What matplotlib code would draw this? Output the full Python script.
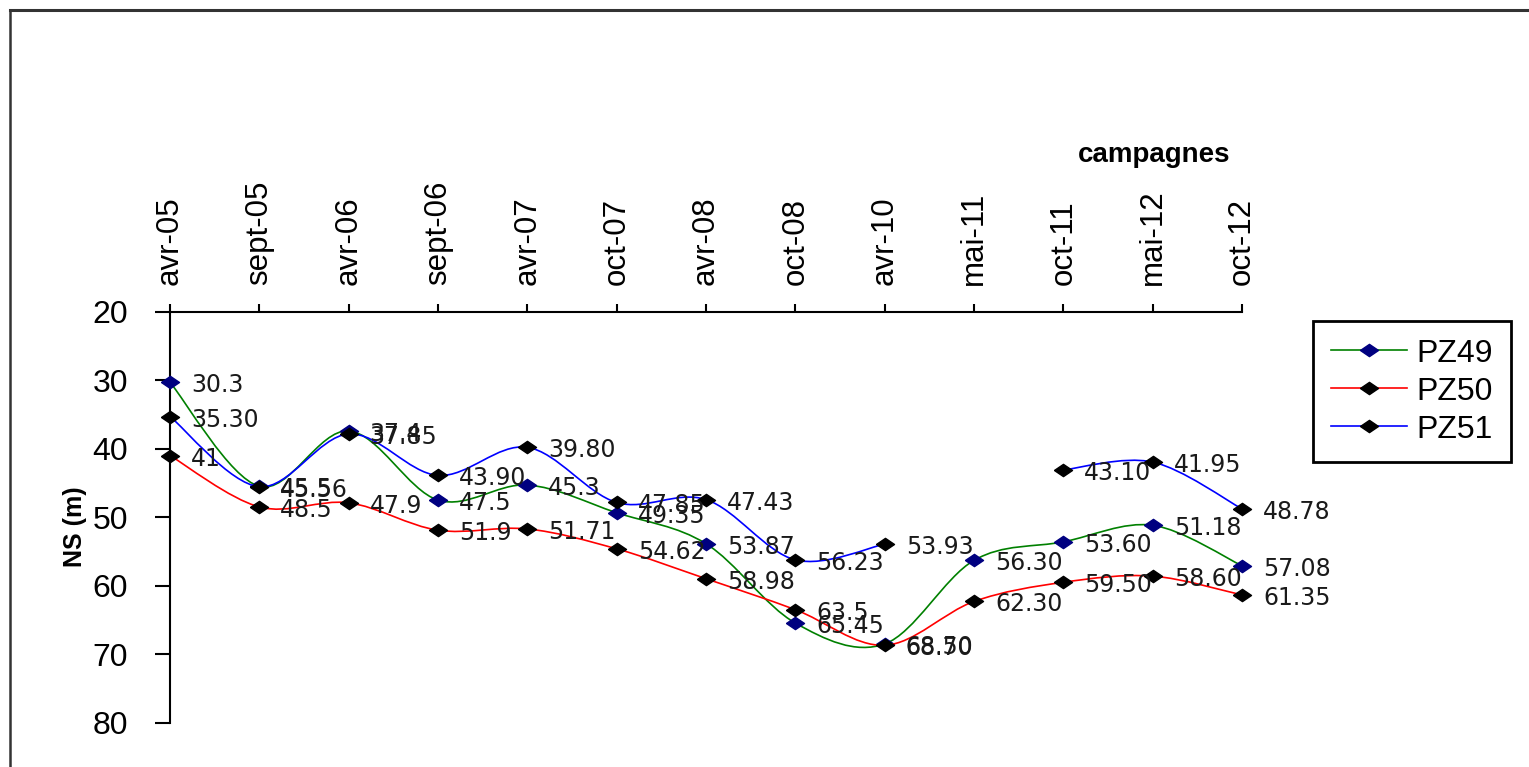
import numpy as np
import matplotlib
matplotlib.use('Agg')
import matplotlib.pyplot as plt
from matplotlib.path import Path
from matplotlib.patches import PathPatch
from matplotlib.lines import Line2D

campagnes = ['avr-05', 'sept-05', 'avr-06', 'sept-06', 'avr-07', 'oct-07', 'avr-08',
             'oct-08', 'avr-10', 'mai-11', 'oct-11', 'mai-12', 'oct-12']

pz49 = [30.3, 45.5, 37.4, 47.5, 45.3, 49.35, 53.87, 65.45, 68.50, 56.30, 53.60, 51.18, 57.08]
pz49_lbl = ['30.3', '45.5', '37.4', '47.5', '45.3', '49.35', '53.87', '65.45', '68.50',
            '56.30', '53.60', '51.18', '57.08']
pz50 = [41, 48.5, 47.9, 51.9, 51.71, 54.62, 58.98, 63.5, 68.70, 62.30, 59.50, 58.60, 61.35]
pz50_lbl = ['41', '48.5', '47.9', '51.9', '51.71', '54.62', '58.98', '63.5', '68.70',
            '62.30', '59.50', '58.60', '61.35']
pz51 = [35.30, 45.56, 37.85, 43.90, 39.80, 47.85, 47.43, 56.23, 53.93, np.nan, 43.10, 41.95, 48.78]
pz51_lbl = ['35.30', '45.56', '37.85', '43.90', '39.80', '47.85', '47.43', '56.23', '53.93',
            '', '43.10', '41.95', '48.78']

series = [
    ('PZ49', pz49, pz49_lbl, '#008000', '#000080'),
    ('PZ50', pz50, pz50_lbl, '#FF0000', '#000000'),
    ('PZ51', pz51, pz51_lbl, '#0000FF', '#000000'),
]

# diamond a bit wider than tall, like the excel markers
diamond = [(-1, 0), (0, 0.68), (1, 0), (0, -0.68), (-1, 0)]


def smooth_path(x, y):
    # excel-like smoothed line: cubic bezier, control points from neighbours (1/6)
    verts = [(x[0], y[0])]
    codes = [Path.MOVETO]
    n = len(x)
    for i in range(n - 1):
        x0, y0 = (x[i - 1], y[i - 1]) if i > 0 else (x[i], y[i])
        x3, y3 = (x[i + 2], y[i + 2]) if i + 2 < n else (x[i + 1], y[i + 1])
        c1 = (x[i] + (x[i + 1] - x0) / 6, y[i] + (y[i + 1] - y0) / 6)
        c2 = (x[i + 1] - (x3 - x[i]) / 6, y[i + 1] - (y3 - y[i]) / 6)
        verts += [c1, c2, (x[i + 1], y[i + 1])]
        codes += [Path.CURVE4] * 3
    return Path(verts, codes)


fig = plt.figure(figsize=(15.29, 7.67), dpi=100)
ax = fig.add_axes([170 / 1529, 1 - 722.7 / 767, 1072 / 1529, 411 / 767])

xs = np.arange(len(campagnes))
handles = []
for k, (name, vals, lbls, lc, mc) in enumerate(series):
    vals = np.array(vals, dtype=float)
    ok = ~np.isnan(vals)
    # split into runs without gaps
    idx = np.where(ok)[0]
    runs = np.split(idx, np.where(np.diff(idx) > 1)[0] + 1)
    for r in runs:
        if len(r) > 1:
            ax.add_patch(PathPatch(smooth_path(xs[r], vals[r]), fill=False,
                                   edgecolor=lc, lw=1.2, zorder=2 + k * 2, clip_on=False))
    ax.plot(xs[ok], vals[ok], linestyle='none', marker=diamond, markersize=13,
            markerfacecolor=mc, markeredgecolor=mc, zorder=3 + k * 2, clip_on=False)
    for xi, v, t in zip(xs, vals, lbls):
        if np.isnan(v):
            continue
        ax.annotate(t, (xi, v), xytext=(21, -3), textcoords='offset pixels',
                    ha='left', va='center', fontsize=17, family='DejaVu Sans',
                    color='#1a1a1a', zorder=10)
    handles.append(Line2D([], [], color=lc, lw=1.2, marker=diamond, markersize=13,
                          markerfacecolor=mc, markeredgecolor=mc, label=name))

ax.set_xlim(0, len(campagnes) - 1)
ax.set_ylim(80, 20)
ax.set_yticks(np.arange(20, 81, 10))
ax.set_xticks(xs)
ax.set_xticklabels(campagnes, rotation=90, family='Liberation Sans', fontsize=22.5)
ax.xaxis.tick_top()
ax.tick_params(axis='x', direction='out', length=6, width=1.5, pad=13, colors='black')
ax.tick_params(axis='y', direction='out', length=11, width=1.5, pad=19)
for lab in ax.get_yticklabels():
    lab.set_family('Liberation Sans')
    lab.set_fontsize(23)
for s in ['right', 'bottom']:
    ax.spines[s].set_visible(False)
for s in ['top', 'left']:
    ax.spines[s].set_linewidth(1.5)
ax.patch.set_visible(False)

fig.text(75 / 1529, 1 - 527 / 767, 'NS (m)', rotation=90, ha='center', va='center',
         fontsize=18, fontweight='bold', family='Liberation Sans')
fig.text(1154 / 1529, 1 - 155 / 767, 'campagnes', ha='center', va='center',
         fontsize=20, fontweight='bold', family='Liberation Sans')

leg = fig.legend(handles=handles, loc='upper left', bbox_to_anchor=(1313 / 1529, 1 - 321 / 767),
                 frameon=True, fancybox=False, edgecolor='black', framealpha=1,
                 prop={'family': 'Liberation Sans', 'size': 23}, handlelength=2.4,
                 labelspacing=0.25, borderpad=0.55, handletextpad=0.3, borderaxespad=0)
leg.get_frame().set_linewidth(2)

# outer chart-area border (only top and left edges visible)
fig.add_artist(Line2D([10 / 1529, 1], [1 - 10 / 767, 1 - 10 / 767], transform=fig.transFigure,
                      color='#333333', lw=2.2))
fig.add_artist(Line2D([10 / 1529, 10 / 1529], [0, 1 - 10 / 767], transform=fig.transFigure,
                      color='#333333', lw=1.8))

fig.savefig('out.png', dpi=100)
